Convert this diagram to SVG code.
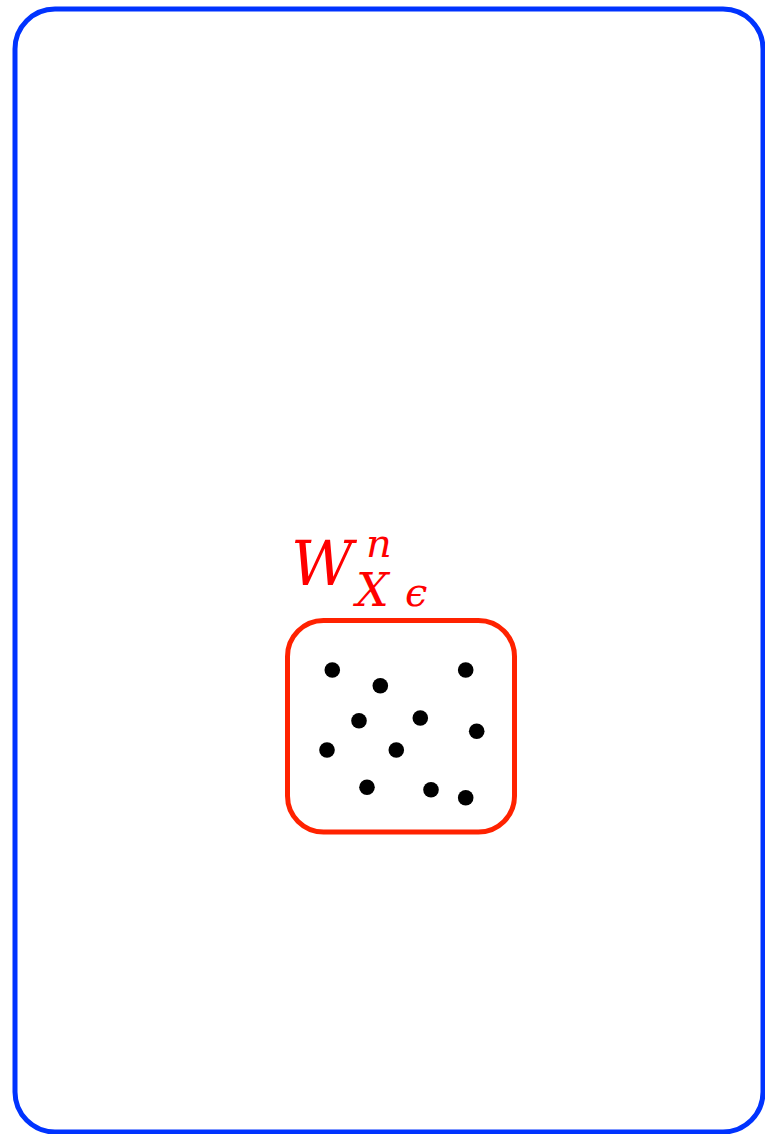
<svg xmlns="http://www.w3.org/2000/svg" width="765" height="1134" viewBox="0 0 765 1134">
<style>
.dot{fill:#000}
.lbl{font-family:"DejaVu Serif","Liberation Serif",serif;font-style:italic;fill:#ff0000}
</style>
<rect width="765" height="1134" fill="#fff"/>
<g id="outer">
<rect x="15" y="9" width="748" height="1123" rx="40" ry="40" fill="none" stroke="#0033ff" stroke-width="5"/>
</g>
<g id="set">
<rect x="287.5" y="620.5" width="227" height="211.5" rx="36" ry="36" fill="none" stroke="#ff2200" stroke-width="5"/>
<text class="lbl" x="291" y="585" font-size="62" textLength="62" lengthAdjust="spacingAndGlyphs">W</text>
<text class="lbl" x="366" y="557" font-size="40">n</text>
<text class="lbl" x="356" y="606" font-size="46">X</text>
<text class="lbl" x="405" y="606" font-size="40">ϵ</text>
</g>
<g id="points">
<circle class="dot" cx="332.3" cy="670" r="7.8"/>
<circle class="dot" cx="380.3" cy="685.7" r="7.8"/>
<circle class="dot" cx="465.7" cy="670" r="7.8"/>
<circle class="dot" cx="359" cy="720.7" r="7.8"/>
<circle class="dot" cx="420.3" cy="718" r="7.8"/>
<circle class="dot" cx="476.7" cy="731.3" r="7.8"/>
<circle class="dot" cx="327" cy="750" r="7.8"/>
<circle class="dot" cx="396.3" cy="750" r="7.8"/>
<circle class="dot" cx="367" cy="787.3" r="7.8"/>
<circle class="dot" cx="431" cy="789.7" r="7.8"/>
<circle class="dot" cx="465.7" cy="797.7" r="7.8"/>
</g>
<g id="connectors"/>
</svg>
